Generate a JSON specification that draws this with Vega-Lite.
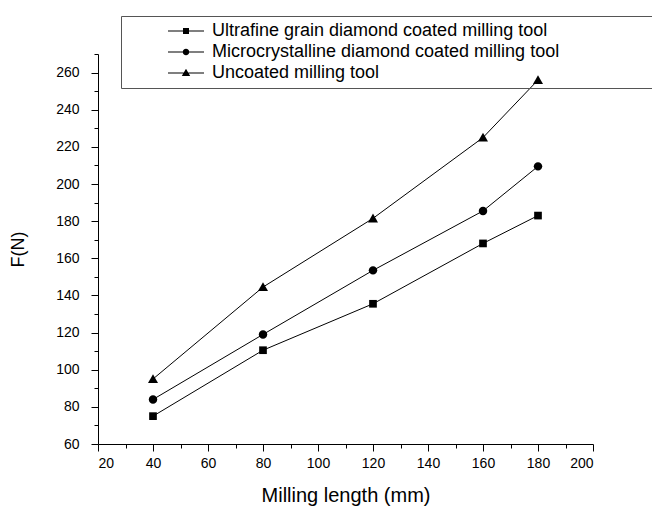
{
  "$schema": "https://vega.github.io/schema/vega-lite/v6.json",
  "width": 495,
  "height": 390,
  "autosize": {"type": "none"},
  "padding": {"left": 98, "top": 54, "right": 59, "bottom": 63},
  "background": "white",
  "config": {
    "view": {"stroke": null},
    "font": "Liberation Sans",
    "axis": {
      "grid": false,
      "domainColor": "black",
      "domainWidth": 1,
      "tickColor": "black",
      "tickWidth": 1,
      "labelColor": "black",
      "labelFont": "Liberation Sans",
      "labelFontSize": 14,
      "titleFont": "Liberation Sans",
      "titleFontWeight": "normal",
      "titleColor": "black",
      "titleFontSize": 18
    }
  },
  "data": {
    "values": [
      {"tool": "Ultrafine grain diamond coated milling tool", "length": 40, "force": 75},
      {"tool": "Ultrafine grain diamond coated milling tool", "length": 80, "force": 110.5},
      {"tool": "Ultrafine grain diamond coated milling tool", "length": 120, "force": 135.5},
      {"tool": "Ultrafine grain diamond coated milling tool", "length": 160, "force": 168},
      {"tool": "Ultrafine grain diamond coated milling tool", "length": 180, "force": 183},
      {"tool": "Microcrystalline diamond coated milling tool", "length": 40, "force": 84},
      {"tool": "Microcrystalline diamond coated milling tool", "length": 80, "force": 119},
      {"tool": "Microcrystalline diamond coated milling tool", "length": 120, "force": 153.5},
      {"tool": "Microcrystalline diamond coated milling tool", "length": 160, "force": 185.5},
      {"tool": "Microcrystalline diamond coated milling tool", "length": 180, "force": 209.5},
      {"tool": "Uncoated milling tool", "length": 40, "force": 95},
      {"tool": "Uncoated milling tool", "length": 80, "force": 144.5},
      {"tool": "Uncoated milling tool", "length": 120, "force": 181.5},
      {"tool": "Uncoated milling tool", "length": 160, "force": 225},
      {"tool": "Uncoated milling tool", "length": 180, "force": 256}
    ]
  },
  "resolve": {"axis": {"x": "independent", "y": "independent"}, "scale": {"shape": "independent"}},
  "layer": [
    {
      "mark": {"type": "line", "color": "black", "strokeWidth": 1},
      "encoding": {
        "x": {
          "field": "length", "type": "quantitative",
          "scale": {"domain": [20, 200], "nice": false, "zero": false},
          "axis": {"orient": "bottom", "values": [30, 50, 70, 90, 110, 130, 150, 170, 190], "labels": false, "domain": false, "tickSize": 4, "title": null}
        },
        "y": {
          "field": "force", "type": "quantitative",
          "scale": {"domain": [60, 270], "nice": false, "zero": false},
          "axis": {"orient": "left", "values": [70, 90, 110, 130, 150, 170, 190, 210, 230, 250, 270], "labels": false, "domain": false, "tickSize": 4, "title": null}
        },
        "detail": {"field": "tool"}
      }
    },
    {
      "mark": {"type": "point", "filled": true, "color": "black", "size": 59, "opacity": 1},
      "encoding": {
        "x": {
          "field": "length", "type": "quantitative",
          "axis": {"orient": "bottom", "values": [20, 40, 60, 80, 100, 120, 140, 160, 180, 200], "tickSize": 7, "labelPadding": 5, "title": "Milling length (mm)", "titleFontSize": 20, "titlePadding": 15}
        },
        "y": {
          "field": "force", "type": "quantitative",
          "axis": {"orient": "left", "values": [60, 80, 100, 120, 140, 160, 180, 200, 220, 240, 260], "tickSize": 7, "labelPadding": 12, "title": "F(N)", "titlePadding": 28}
        },
        "shape": {
          "field": "tool", "type": "nominal",
          "scale": {
            "domain": ["Ultrafine grain diamond coated milling tool", "Microcrystalline diamond coated milling tool", "Uncoated milling tool"],
            "range": [
              "M-1,-1H1V1H-1Z",
              "M-1.1,0A1.1,1.1,0,1,0,1.1,0A1.1,1.1,0,1,0,-1.1,0Z",
              "M0,-1.25L1.3,1.05H-1.3Z"
            ]
          },
          "legend": null
        }
      }
    },
    {
      "transform": [{"filter": "datum.force < 0"}],
      "mark": {"type": "point", "filled": true, "color": "black", "size": 36, "opacity": 1},
      "encoding": {
        "shape": {
          "field": "tool", "type": "nominal",
          "scale": {
            "domain": ["Ultrafine grain diamond coated milling tool", "Microcrystalline diamond coated milling tool", "Uncoated milling tool"],
            "range": [
              "M-1,-1H1V1H-1ZM-6,-0.17H-1V0.17H-6ZM1,-0.17H6V0.17H1Z",
              "M-1.1,0A1.1,1.1,0,1,0,1.1,0A1.1,1.1,0,1,0,-1.1,0ZM-6,-0.17H-1.1V0.17H-6ZM1.1,-0.17H6V0.17H1.1Z",
              "M0,-1.4L1.4,1H-1.4ZM-6,-0.17H-0.8V0.17H-6ZM0.8,-0.17H6V0.17H0.8Z"
            ]
          },
          "legend": {
            "orient": "none",
            "legendX": 23,
            "legendY": -38,
            "padding": 6,
            "strokeColor": "#555555",
            "labelFont": "Liberation Sans",
            "labelFontSize": 18,
            "labelColor": "black",
            "labelLimit": 600,
            "rowPadding": 3,
            "symbolSize": 36,
            "symbolOffset": 50,
            "labelOffset": 17,
            "symbolFillColor": "black",
            "symbolStrokeWidth": 0,
            "title": "\u00a0",
            "titleOrient": "right",
            "titlePadding": 100,
            "titleFontSize": 10
          }
        }
      }
    }
  ]
}
